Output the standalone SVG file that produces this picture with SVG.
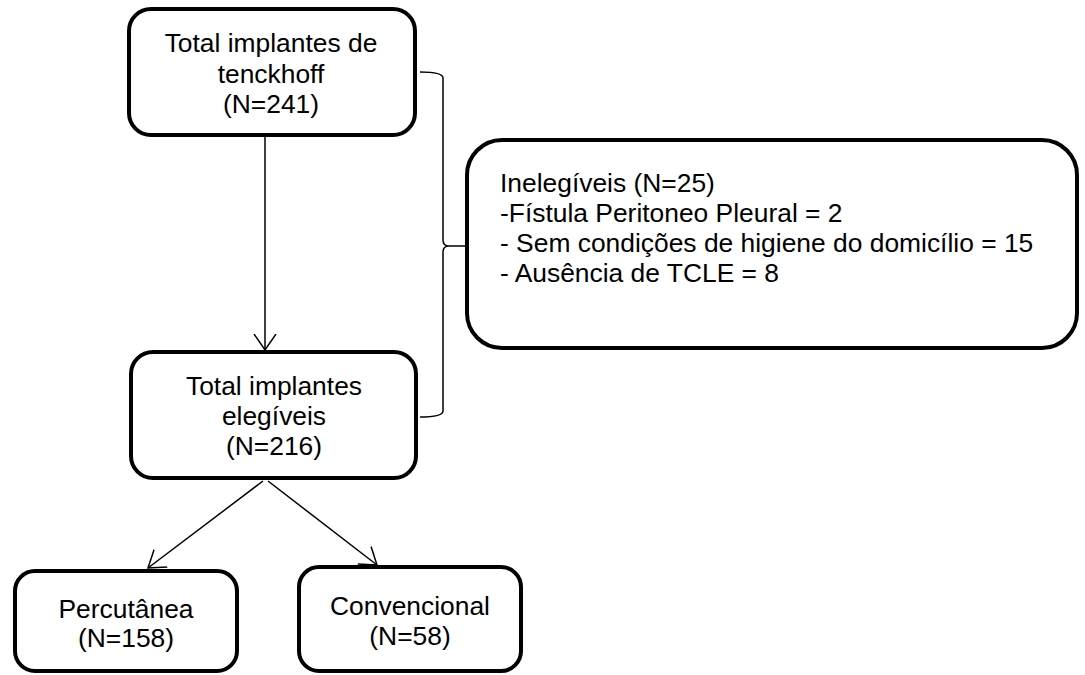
<svg xmlns="http://www.w3.org/2000/svg" width="1085" height="675" viewBox="0 0 1085 675">
  <style>
    .box { fill: #ffffff; stroke: #000000; stroke-width: 4; }
    .t { font-family: "Liberation Sans", Arial, sans-serif; font-size: 26.4px; fill: #000000; }
    .c { text-anchor: middle; }
    .conn { fill: none; stroke: #000000; stroke-width: 1.5; }
  </style>
  <defs>
    <marker id="arr" markerUnits="userSpaceOnUse" markerWidth="34" markerHeight="34" refX="16" refY="16" orient="auto" viewBox="0 0 34 34">
      <path d="M0,5 L16,16 L0,27" fill="none" stroke="#000" stroke-width="1.5"/>
    </marker>
  </defs>
  <rect width="1085" height="675" fill="#ffffff"/>

  <g id="connectors">
    <line class="conn" x1="265" y1="137" x2="265" y2="350" marker-end="url(#arr)"/>
    <line class="conn" x1="263" y1="481" x2="148" y2="568" marker-end="url(#arr)"/>
    <line class="conn" x1="268" y1="481" x2="377" y2="565" marker-end="url(#arr)"/>
    <path class="conn" d="M420,72 Q443,72 443,78 L443,240 Q443,246 449,246 Q443,246 443,252 L443,411 Q443,417 420,417"/>
    <line class="conn" x1="449" y1="246" x2="466" y2="246"/>
  </g>

  <g id="node-total">
    <rect class="box" x="129" y="9" width="286" height="126" rx="22"/>
    <text class="t c" x="271" y="52">Total implantes de</text>
    <text class="t c" x="271" y="83">tenckhoff</text>
    <text class="t c" x="271" y="113">(N=241)</text>
  </g>

  <g id="node-inelegiveis">
    <rect class="box" x="467" y="140" width="610" height="208" rx="35"/>
    <text class="t" x="500" y="192">Inelegíveis (N=25)</text>
    <text class="t" x="500" y="222">-Fístula Peritoneo Pleural = 2</text>
    <text class="t" x="500" y="252">- Sem condições de higiene do domicílio = 15</text>
    <text class="t" x="500" y="282">- Ausência de TCLE = 8</text>
  </g>

  <g id="node-elegiveis">
    <rect class="box" x="131" y="352" width="285" height="126" rx="22"/>
    <text class="t c" x="274" y="395">Total implantes</text>
    <text class="t c" x="274" y="425">elegíveis</text>
    <text class="t c" x="274" y="455">(N=216)</text>
  </g>

  <g id="node-percutanea">
    <rect class="box" x="15" y="571" width="222" height="100" rx="20"/>
    <text class="t c" x="126" y="618">Percutânea</text>
    <text class="t c" x="126" y="647">(N=158)</text>
  </g>

  <g id="node-convencional">
    <rect class="box" x="299" y="567" width="222" height="104" rx="20"/>
    <text class="t c" x="410" y="615">Convencional</text>
    <text class="t c" x="410" y="645">(N=58)</text>
  </g>
</svg>
